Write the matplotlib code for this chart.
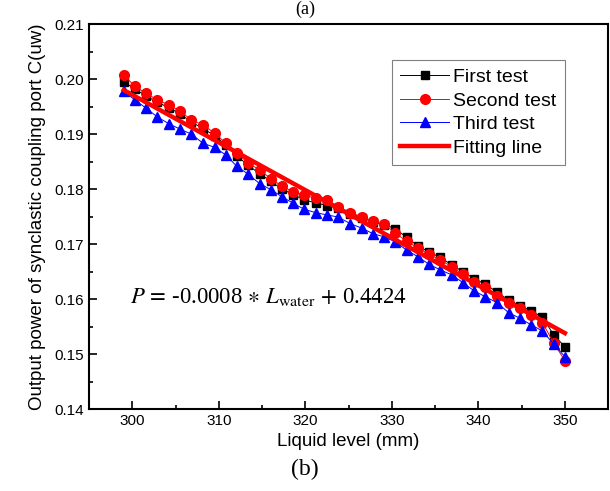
import matplotlib
matplotlib.use("Agg")
import matplotlib.pyplot as plt
from matplotlib.ticker import MultipleLocator

plt.rcParams["font.family"] = ["Liberation Sans", "DejaVu Sans"]
plt.rcParams["mathtext.fontset"] = "stix"

# liquid level (mm)
levels = [299.0, 300.3, 301.6, 302.9, 304.2, 305.5, 306.8, 308.2, 309.5, 310.8,
          312.1, 313.4, 314.7, 316.0, 317.3, 318.6, 319.9, 321.2, 322.5, 323.8,
          325.2, 326.5, 327.8, 329.1, 330.4, 331.7, 333.0, 334.3, 335.6, 336.9,
          338.2, 339.5, 340.8, 342.2, 343.5, 344.8, 346.1, 347.4, 348.7, 350.0]

first_test = [0.1995, 0.1982, 0.1969, 0.1958, 0.1948, 0.1937, 0.1922, 0.1910, 0.1897, 0.1880,
              0.1860, 0.1843, 0.1828, 0.1814, 0.1800, 0.1790, 0.1780, 0.1775, 0.1770, 0.1765,
              0.1755, 0.1748, 0.1740, 0.1735, 0.1728, 0.1712, 0.1697, 0.1685, 0.1676, 0.1662,
              0.1650, 0.1637, 0.1627, 0.1612, 0.1598, 0.1588, 0.1578, 0.1567, 0.1535, 0.1513]

second_test = [0.2007, 0.1987, 0.1974, 0.1962, 0.1953, 0.1942, 0.1926, 0.1916, 0.1902, 0.1883,
               0.1865, 0.1847, 0.1835, 0.1819, 0.1805, 0.1795, 0.1789, 0.1783, 0.1780, 0.1768,
               0.1757, 0.1750, 0.1741, 0.1736, 0.1720, 0.1705, 0.1693, 0.1681, 0.1671, 0.1659,
               0.1645, 0.1631, 0.1621, 0.1605, 0.1593, 0.1583, 0.1571, 0.1557, 0.1520, 0.1488]

third_test = [0.1978, 0.1962, 0.1947, 0.1931, 0.1919, 0.1909, 0.1900, 0.1883, 0.1876, 0.1862,
              0.1841, 0.1827, 0.1810, 0.1799, 0.1786, 0.1774, 0.1763, 0.1757, 0.1753, 0.1749,
              0.1737, 0.1729, 0.1719, 0.1713, 0.1704, 0.1689, 0.1677, 0.1663, 0.1653, 0.1644,
              0.1630, 0.1615, 0.1604, 0.1593, 0.1575, 0.1565, 0.1553, 0.1542, 0.1518, 0.1495]

# fitting line end points
fit_x = [299.0, 350.0]
fit_y = [0.1980, 0.1538]

fig = plt.figure(figsize=(6.1, 4.91), dpi=100)
ax = fig.add_axes([0.146, 0.167, 0.851, 0.784])

ax.plot(levels, first_test, c="black", lw=0.7, marker="s", ms=6, label="First test")
ax.plot(levels, second_test, c="red", lw=0.7, marker="o", ms=7, label="Second test")
ax.plot(levels, third_test, c="blue", lw=0.7, marker="^", ms=7.5, label="Third test")
ax.plot(fit_x, fit_y, c="red", lw=3.2, label="Fitting line")

# equation: plain serif text for the numbers, mathtext for the italic symbols
ax.text(299.7, 0.1604, r"$P\,=\,$-0.0008$\,\ast\,L_{\mathrm{water}}\,+\,$0.4424",
        fontsize=16.4, family="Liberation Serif", va="center")

ax.set_xlim(295, 355)
ax.set_ylim(0.14, 0.21)
ax.xaxis.set_major_locator(MultipleLocator(10))
ax.xaxis.set_minor_locator(MultipleLocator(5))
ax.yaxis.set_major_locator(MultipleLocator(0.01))
ax.yaxis.set_minor_locator(MultipleLocator(0.005))
ax.yaxis.set_major_formatter(plt.FormatStrFormatter("%.2f"))
ax.tick_params(which="both", direction="in", labelsize=11, width=1.2)
ax.tick_params(which="major", length=6)
ax.tick_params(which="minor", length=3)
for sp in ax.spines.values():
    sp.set_linewidth(1.5)

ax.set_xlabel("Liquid level (mm)", fontsize=13.5, labelpad=4)
ax.set_ylabel("Output power of synclastic coupling port C(uw)", fontsize=13.5, labelpad=6)

leg = ax.legend(loc="upper left", bbox_to_anchor=(0.583, 0.907), fontsize=14,
                fancybox=False, edgecolor="gray", framealpha=1, labelspacing=0.3,
                handlelength=2.5, handletextpad=0.2, borderpad=0.45, borderaxespad=0)
leg.get_frame().set_linewidth(0.8)

fig.text(0.5, 0.999, "(a)", fontsize=13, family="Liberation Serif", ha="center", va="top")
fig.text(0.5, 0.043, "(b)", fontsize=17, family="Liberation Serif", ha="center", va="center")

fig.savefig("out.png", dpi=100)
